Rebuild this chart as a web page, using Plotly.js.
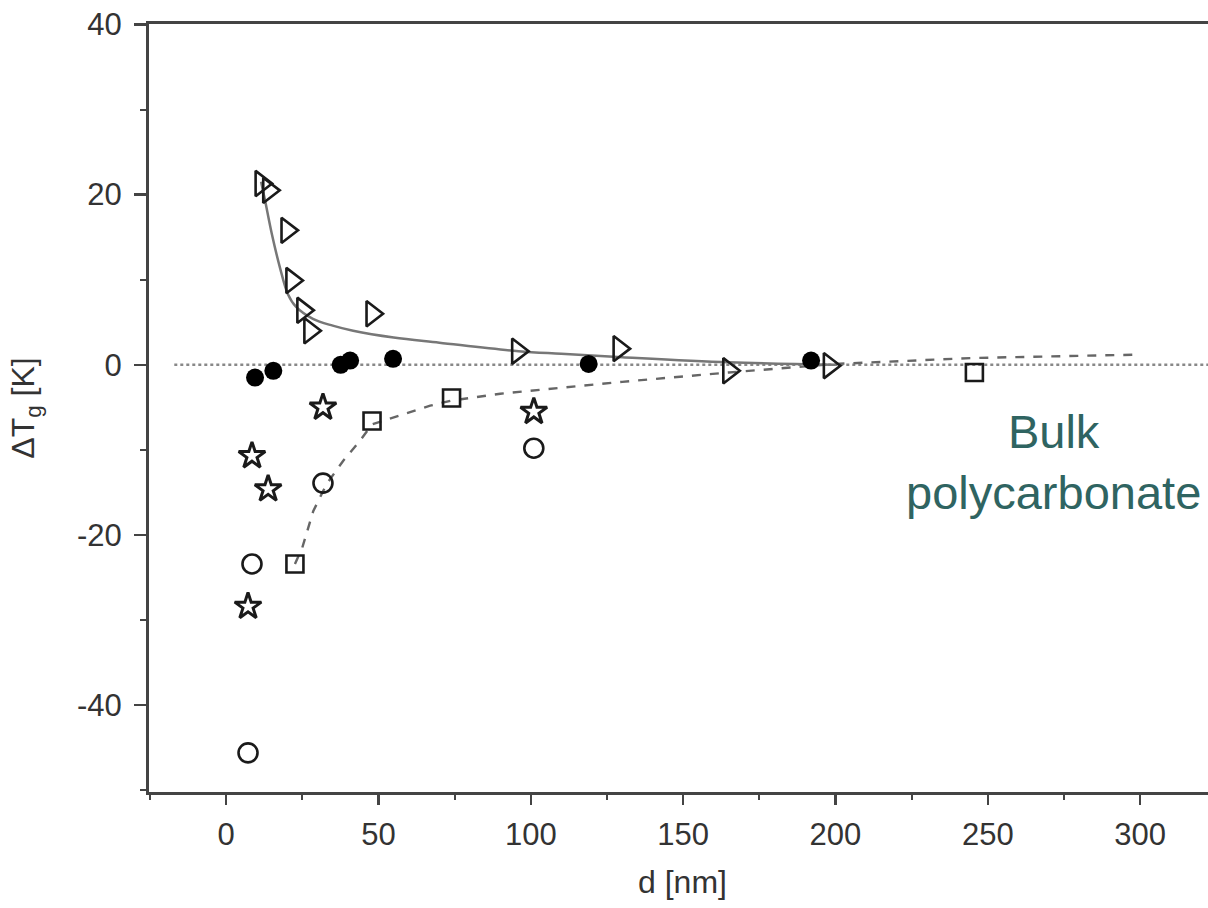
<!DOCTYPE html>
<html>
<head>
<meta charset="utf-8">
<script src="https://cdn.plot.ly/plotly-3.0.1.min.js"></script>
<style>html,body{margin:0;padding:0;background:#fff;overflow:hidden;width:1208px;height:908px;}#chart{width:1216px;height:908px;}</style>
</head>
<body>
<div id="chart"></div>
<script>
// Open triangles (right-pointing)
const triX = [11.5, 14, 20, 21.6, 25.2, 27.5, 47.9, 95.7, 129, 165, 198];
const triY = [21.3, 20.5, 15.8, 9.9, 6.4, 4.0, 6.0, 1.6, 1.9, -0.7, -0.1];
// Filled circles
const dotX = [9.5, 15.5, 37.6, 40.7, 54.8, 119, 192];
const dotY = [-1.5, -0.7, 0.0, 0.5, 0.7, 0.1, 0.5];
// Open stars
const starX = [7.2, 8.5, 13.8, 31.8, 101];
const starY = [-28.4, -10.7, -14.6, -5.0, -5.5];
// Open circles
const circX = [7.2, 8.5, 31.8, 101];
const circY = [-45.6, -23.4, -13.9, -9.8];
// Open squares
const sqX = [22.6, 47.9, 74, 245.6];
const sqY = [-23.4, -6.6, -3.9, -0.9];
// Solid fitted curve
const fitX = [11.5, 12.8, 15, 17.7, 20.3, 23, 28.5, 35, 41.7, 55, 70, 96, 110, 130, 165, 200];
const fitY = [21.5, 19.3, 15.4, 11.4, 8.3, 6.8, 5.4, 4.6, 4.0, 3.2, 2.6, 1.6, 1.3, 0.9, 0.3, 0.0];
// Dashed fitted curve
const dashX = [22.6, 25, 28.6, 33, 38.4, 44, 47.9, 55, 67, 74, 90, 110, 130, 165, 200, 245, 300];
const dashY = [-23.4, -21.5, -17.2, -14, -11.3, -8.9, -7.0, -6.2, -4.8, -4.2, -3.4, -2.7, -2.0, -0.9, 0.1, 0.8, 1.2];
// Bulk reference line
const bulkX = [-17, 325];
const bulkY = [0, 0];
const xTicks = [0, 50, 100, 150, 200, 250, 300];
const yTicks = [-40, -20, 0, 20, 40];

const mk = '#1a1a1a';
const traces = [
  {x: bulkX, y: bulkY, mode: 'lines', line: {color: '#888', width: 2.5, dash: 'dot'}, hoverinfo: 'skip'},
  {x: dashX, y: dashY, mode: 'lines', line: {color: '#666', width: 2.4, dash: 'dash'}, hoverinfo: 'skip'},
  {x: fitX, y: fitY, mode: 'lines', line: {color: '#777', width: 2.5, shape: 'spline'}, hoverinfo: 'skip'},
  {x: triX, y: triY, mode: 'markers', marker: {symbol: 'triangle-right-open', size: 22, color: mk, line: {width: 2.6, color: mk}}},
  {x: dotX, y: dotY, mode: 'markers', marker: {symbol: 'circle', size: 18, color: '#000'}},
  {x: starX, y: starY, mode: 'markers', marker: {symbol: 'star-open', size: 20, color: mk, line: {width: 3, color: mk}}},
  {x: circX, y: circY, mode: 'markers', marker: {symbol: 'circle-open', size: 19, color: mk, line: {width: 2.6, color: mk}}},
  {x: sqX, y: sqY, mode: 'markers', marker: {symbol: 'square-open', size: 17, color: mk, line: {width: 2.6, color: mk}}}
];

const fam = 'Liberation Sans, Arial, sans-serif';
const layout = {
  width: 1216, height: 908,
  margin: {l: 149, r: 0, t: 24, b: 116},
  paper_bgcolor: '#fff', plot_bgcolor: '#fff',
  showlegend: false,
  font: {family: fam, color: '#333'},
  xaxis: {
    range: [-25.3, 324.9], tickvals: xTicks, ticktext: xTicks.map(String),
    showgrid: false, zeroline: false,
    showline: true, linecolor: '#444', linewidth: 3, mirror: true,
    ticks: 'outside', ticklen: 10, tickwidth: 2.5, tickcolor: '#444',
    minor: {dtick: 25, tick0: 0, ticks: 'outside', ticklen: 5, tickwidth: 2, tickcolor: '#444'},
    tickfont: {size: 31, family: fam, color: '#333'},
    ticklabelstandoff: 3,
    title: {text: 'd [nm]', font: {size: 32, family: fam, color: '#333'}, standoff: 20}
  },
  yaxis: {
    range: [-50.2, 40.05], tickvals: yTicks, ticktext: yTicks.map(v => v < 0 ? '-' + Math.abs(v) : String(v)),
    showgrid: false, zeroline: false,
    showline: true, linecolor: '#444', linewidth: 3, mirror: false,
    ticks: 'outside', ticklen: 12, tickwidth: 2.5, tickcolor: '#444',
    minor: {dtick: 10, tick0: 0, ticks: 'outside', ticklen: 6, tickwidth: 2, tickcolor: '#444'},
    tickfont: {size: 31, family: fam, color: '#333'},
    ticklabelstandoff: 6,
    title: {text: 'ΔT<sub>g</sub> [K]', font: {size: 32, family: fam, color: '#333'}, standoff: 33}
  },
  annotations: [
    {x: 271.6, y: -11.4, xref: 'x', yref: 'y', text: 'Bulk<br>polycarbonate', showarrow: false,
     font: {size: 47, family: fam, color: '#2f6461'}, align: 'center', xanchor: 'center', yanchor: 'middle'}
  ]
};
Plotly.newPlot('chart', traces, layout, {displayModeBar: false, staticPlot: true});
</script>
</body>
</html>
